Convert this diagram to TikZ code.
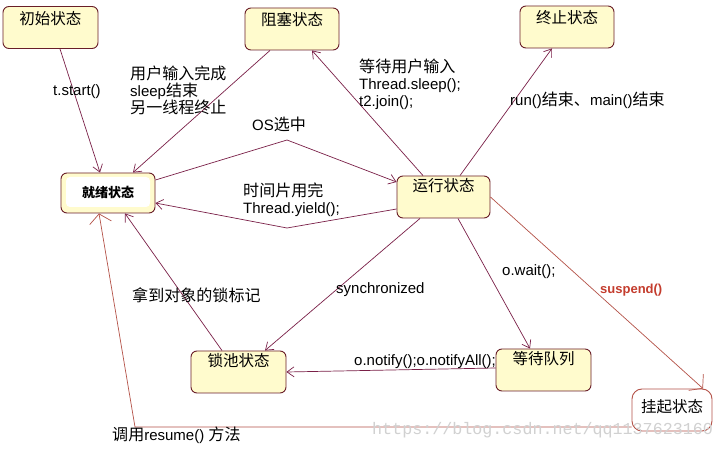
\documentclass[tikz,border=0pt]{standalone}
\usepackage{fontspec}
\setmainfont{Liberation Sans}
\setmonofont{Liberation Mono}
\newfontfamily\cjk{Noto Sans CJK SC}
\newfontfamily\cjkl[Scale=1.07]{Noto Sans CJK SC}
\newcommand\zhs[1]{{\cjkl #1}}
\usetikzlibrary{arrows.meta,calc}
\definecolor{lnc}{RGB}{122,32,72}
\definecolor{boxc}{RGB}{105,30,40}
\definecolor{boxf}{RGB}{255,251,205}
\definecolor{redl}{RGB}{180,82,72}
\definecolor{redt}{RGB}{196,60,45}
\begin{document}
\begin{tikzpicture}[x=1pt,y=-1pt,
  box/.style={draw=boxc, fill=boxf, rounded corners=6pt, line width=0.9pt, inner sep=0pt,
    minimum width=95pt, text height=18pt, text depth=24pt, font=\cjk\fontsize{15.5}{18}\selectfont},
  ln/.style={draw=lnc, line width=0.7pt, -{Straight Barb[length=7pt,width=10pt,line width=0.7pt]}},
  rln/.style={draw=redl, line width=0.7pt, -{Straight Barb[length=9pt,width=22pt,line width=0.7pt]}},
  lbl/.style={anchor=base west, inner sep=0pt, font=\fontsize{15}{17}\selectfont, align=left}
]
\useasboundingbox (0,0) rectangle (724,449);
\fill[white] (0,0) rectangle (724,449);

% states
\node[box] (init) at (50.5,27.5) {初始状态};
\node[box, minimum width=94pt] (block) at (292,29) {阻塞状态};
\node[box, minimum width=94pt] (term) at (567,27) {终止状态};
\node[box, minimum width=94pt, text height=20pt, text depth=20pt] (ready) at (108,193) {};
\node[fill=white, rounded corners=4pt, inner sep=0pt, minimum width=84pt, minimum height=30pt,
  font=\cjk\bfseries\fontsize{13}{15}\selectfont] (readyin) at (108,192) {就绪状态};
\node[box, minimum width=93pt, text height=16pt, text depth=26pt] (run) at (443.5,197) {运行状态};
\node[box, text height=16pt, text depth=26pt] (lock) at (238.5,372) {锁池状态};
\node[box, text height=16pt, text depth=26pt] (wait) at (543.5,370) {等待队列};
\node[box, draw=redl, fill=white, rounded corners=10pt, minimum width=80pt, text height=24pt, text depth=18pt] (susp) at (672,410) {挂起状态};

% bend points
\coordinate (os) at (287,140);
\coordinate (ts) at (287,228);
\coordinate (rc) at (135,427);

% connectors
\draw[ln] ([xshift=9.5pt]init.south) -- ([xshift=-8pt]ready.north);
\draw[ln] ([xshift=-22pt]block.south) -- ([xshift=25pt]ready.north);
\draw[ln] ([xshift=-20.5pt]run.north) -- ([xshift=20pt]block.south);
\draw[ln] ([xshift=16.5pt]run.north) -- ([xshift=-15pt]term.south);
\draw[ln] ([yshift=13pt]ready.east) -- (os) -- ([yshift=15pt]run.west);
\draw[ln] ([yshift=-12pt]run.west) -- (ts) -- ([yshift=-10pt]ready.east);
\draw[ln] ([xshift=-23.5pt]run.south) -- ([xshift=26.5pt]lock.north);
\draw[ln] ([xshift=-16.5pt]lock.north) -- ([xshift=17pt]ready.south);
\draw[ln] ([xshift=14.5pt]run.south) -- ([xshift=-13.5pt]wait.north);
\draw[ln] ([yshift=2pt]wait.west) -- (lock.east);
\draw[rln] (run.east) -- ([xshift=31pt]susp.north);
\draw[rln] ([yshift=-17pt]susp.west) -- (rc) -- ([xshift=-9pt]ready.south);

% labels
\node[lbl] (l1) at (53,96) {t.start()};
\node[lbl] (l2) at (130,114) {\zhs{用户输入完成}\\\relax sleep\zhs{结束}\\\zhs{另一线程终止}};
\node[lbl] (l3) at (252,131) {OS\zhs{选中}};
\node[lbl] (l4) at (243,214) {\zhs{时间片用完}\\Thread.yield();};
\node[lbl] (l5) at (359,107) {\zhs{等待用户输入}\\Thread.sleep();\\t2.join();};
\node[lbl] (l6) at (510,106) {run()\zhs{结束、}main()\zhs{结束}};
\node[lbl] (l7) at (132,302) {\zhs{拿到对象的锁标记}};
\node[lbl] (l8) at (336,294) {synchronized};
\node[lbl] (l9) at (502,276) {o.wait();};
\node[lbl, font=\bfseries\fontsize{13}{15}\selectfont, text=redt] (l10) at (600,294) {suspend()};
\node[lbl] (l11) at (354,366) {o.notify();o.notifyAll();};
\node[lbl] (l12) at (112,441) {\zhs{调用}resume() \zhs{方法}};

% watermark
\node[anchor=base west, inner sep=0pt, font=\ttfamily\fontsize{16.7}{18}\selectfont, text=black!18] (wm) at (372,435) {https://blog.csdn.net/qq1137623160};
\end{tikzpicture}
\end{document}
